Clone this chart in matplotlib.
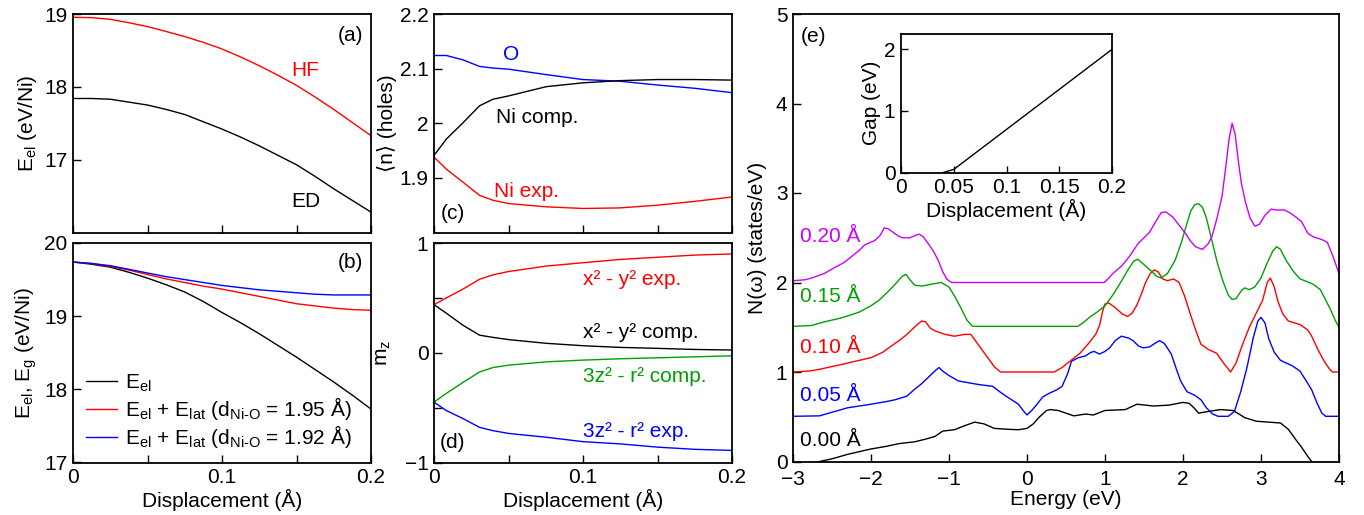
import matplotlib
matplotlib.use("Agg")
import matplotlib.pyplot as plt

plt.rcParams['font.family'] = ['Liberation Sans', 'DejaVu Sans']
plt.rcParams['mathtext.fontset'] = 'custom'
plt.rcParams['mathtext.rm'] = 'Liberation Sans'
plt.rcParams['mathtext.it'] = 'Liberation Sans:italic'
plt.rcParams['font.size'] = 15

RED = '#ff0000'
BLUE = '#0000ff'
GREEN = '#00a000'
MAG = '#cc00ff'

# ---------------- panel (a) ----------------
disp_a = [0.0, 0.0125, 0.025, 0.0375, 0.05, 0.0625, 0.075, 0.0875, 0.1, 0.1125, 0.125,
          0.1375, 0.15, 0.1625, 0.175, 0.1875, 0.2]
hf_a = [18.955, 18.95, 18.927, 18.88, 18.827, 18.76, 18.69, 18.61, 18.52, 18.41, 18.29,
        18.16, 18.02, 17.86, 17.69, 17.51, 17.33]
ed_a = [17.84, 17.84, 17.83, 17.79, 17.75, 17.69, 17.62, 17.52, 17.42, 17.31, 17.19,
        17.06, 16.93, 16.77, 16.60, 16.44, 16.28]

# ---------------- panel (b) ----------------
disp_b = [0.0, 0.0125, 0.025, 0.0375, 0.05, 0.0625, 0.075, 0.0875, 0.1, 0.1125, 0.125,
          0.1375, 0.15, 0.1625, 0.175, 0.1875, 0.2]
eel_b = [19.74, 19.71, 19.67, 19.60, 19.52, 19.43, 19.33, 19.20, 19.05, 18.91, 18.76,
         18.60, 18.44, 18.27, 18.10, 17.92, 17.73]
e195_b = [19.74, 19.72, 19.68, 19.63, 19.57, 19.51, 19.46, 19.41, 19.37, 19.32, 19.27,
          19.22, 19.17, 19.14, 19.11, 19.09, 19.08]
e192_b = [19.74, 19.72, 19.69, 19.64, 19.59, 19.54, 19.50, 19.46, 19.42, 19.39, 19.36,
          19.34, 19.32, 19.30, 19.29, 19.29, 19.29]

# ---------------- panels (c), (d) ----------------
disp_cd = [0.0, 0.0083, 0.0195, 0.0306, 0.0396, 0.05, 0.0754, 0.1, 0.1246, 0.15, 0.175, 0.2]
n_O = [2.124, 2.124, 2.116, 2.104, 2.101, 2.099, 2.089, 2.08, 2.077, 2.07, 2.064, 2.056]
n_ni_comp = [1.941, 1.971, 2.001, 2.032, 2.044, 2.05, 2.067, 2.074, 2.078, 2.08, 2.08, 2.079]
n_ni_exp = [1.938, 1.916, 1.892, 1.868, 1.859, 1.853, 1.847, 1.844, 1.845, 1.85, 1.857, 1.865]

mz_x2y2_exp = [0.438, 0.50, 0.58, 0.67, 0.71, 0.74, 0.79, 0.82, 0.85, 0.87, 0.89, 0.90]
mz_x2y2_comp = [0.438, 0.36, 0.25, 0.16, 0.14, 0.12, 0.086, 0.064, 0.049, 0.04, 0.03, 0.025]
mz_3z2_comp = [-0.45, -0.37, -0.27, -0.175, -0.135, -0.113, -0.083, -0.067, -0.055, -0.046, -0.037, -0.028]
mz_3z2_exp = [-0.45, -0.527, -0.60, -0.68, -0.71, -0.735, -0.77, -0.81, -0.83, -0.86, -0.88, -0.89]

# ---------------- panel (e): DOS (offset curves) ----------------
e_000 = [-3.0, -2.8, -2.66, -2.5, -2.3, -2.15, -2.0, -1.8, -1.64, -1.44, -1.3, -1.18, -1.08,
         -0.93, -0.8, -0.67, -0.55, -0.42, -0.25, -0.11, 0.0, 0.08, 0.15, 0.25, 0.3, 0.4,
         0.5, 0.6, 0.75, 0.85, 1.0, 1.26, 1.41, 1.62, 1.82, 2.0, 2.08, 2.14, 2.2, 2.33,
         2.48, 2.64, 2.72, 2.79, 2.94, 3.25, 3.35, 3.45, 3.52, 3.6, 3.7]
dos_000 = [-0.12, -0.04, 0.0, 0.03, 0.08, 0.11, 0.14, 0.17, 0.2, 0.22, 0.25, 0.28, 0.34,
           0.355, 0.4, 0.44, 0.42, 0.37, 0.36, 0.355, 0.37, 0.42, 0.49, 0.57, 0.58, 0.57,
           0.54, 0.51, 0.53, 0.52, 0.57, 0.58, 0.64, 0.62, 0.63, 0.66, 0.65, 0.6, 0.54, 0.56,
           0.58, 0.57, 0.53, 0.49, 0.45, 0.43, 0.36, 0.24, 0.16, 0.056, -0.06]

e_005 = [-3.0, -2.66, -2.5, -2.3, -2.0, -1.8, -1.69, -1.54, -1.45, -1.35, -1.23, -1.17,
         -1.13, -1.08, -1.0, -0.88, -0.75, -0.62, -0.44, -0.35, -0.27, -0.18, -0.11, -0.05,
         0.0, 0.06, 0.12, 0.2, 0.28, 0.38, 0.45, 0.52, 0.57, 0.66, 0.75, 0.82, 0.86, 0.93,
         1.0, 1.06, 1.13, 1.21, 1.3, 1.36, 1.43, 1.49, 1.57, 1.64, 1.7, 1.76, 1.85, 1.92,
         1.97, 2.05, 2.15, 2.23, 2.3, 2.38, 2.45, 2.58, 2.66, 2.74, 2.82, 2.9, 2.96, 3.0,
         3.05, 3.1, 3.17, 3.25, 3.4, 3.5, 3.58, 3.65, 3.72, 3.78, 3.83, 4.0]
dos_005 = [0.505, 0.51, 0.55, 0.6, 0.64, 0.67, 0.69, 0.73, 0.8, 0.87, 0.97, 1.02,
           1.05, 1.01, 0.96, 0.90, 0.88, 0.86, 0.84, 0.78, 0.73, 0.68, 0.64, 0.57,
           0.52, 0.57, 0.63, 0.72, 0.76, 0.8, 0.84, 0.98, 1.12, 1.16, 1.18, 1.22, 1.23, 1.2,
           1.23, 1.27, 1.35, 1.40, 1.38, 1.35, 1.29, 1.27, 1.28, 1.32, 1.35, 1.32, 1.2, 1.02,
           0.9, 0.78, 0.74, 0.69, 0.6, 0.53, 0.505, 0.505, 0.56, 0.78, 1.05, 1.38, 1.57, 1.61,
           1.55, 1.37, 1.22, 1.13, 1.07, 1.01, 0.9, 0.80, 0.65, 0.54, 0.505, 0.505]

e_010 = [-3.0, -2.8, -2.66, -2.4, -2.2, -2.0, -1.85, -1.74, -1.64, -1.54, -1.42, -1.35,
         -1.3, -1.24, -1.18, -1.05, -0.93, -0.8, -0.72, -0.62, -0.52, -0.42, -0.34, 0.35,
         0.45, 0.55, 0.68, 0.8, 0.88, 0.93, 0.97, 1.0, 1.05, 1.13, 1.22, 1.29, 1.35, 1.41,
         1.47, 1.52, 1.58, 1.63, 1.68, 1.74, 1.8, 1.88, 1.95, 2.02, 2.1, 2.17, 2.23, 2.33,
         2.43, 2.52, 2.61, 2.68, 2.76, 2.85, 2.94, 3.02, 3.08, 3.12, 3.17, 3.22, 3.28, 3.35,
         3.5, 3.6, 3.65, 3.73, 3.81, 3.88, 3.92, 4.0]
dos_010 = [1.0, 1.01, 1.03, 1.08, 1.12, 1.16, 1.22, 1.29, 1.35, 1.42, 1.52, 1.57,
           1.56, 1.49, 1.46, 1.42, 1.40, 1.42, 1.42, 1.3, 1.18, 1.06, 1.0, 1.0,
           1.05, 1.12, 1.21, 1.33, 1.42, 1.52, 1.68, 1.76, 1.77, 1.72, 1.65, 1.62, 1.66, 1.75,
           1.88, 2.0, 2.1, 2.14, 2.12, 2.04, 2.02, 2.04, 2.0, 1.85, 1.63, 1.45, 1.31, 1.25,
           1.21, 1.1, 1.0, 1.1, 1.3, 1.5, 1.66, 1.8, 2.0, 2.05, 1.95, 1.78, 1.65, 1.57,
           1.53, 1.47, 1.40, 1.25, 1.12, 1.03, 1.0, 1.0]

e_015 = [-3.0, -2.76, -2.6, -2.4, -2.25, -2.15, -2.0, -1.9, -1.79, -1.68, -1.6, -1.55,
         -1.5, -1.44, -1.35, -1.23, -1.1, -1.0, -0.93, -0.85, -0.77, -0.7, 0.65, 0.72, 0.8,
         0.9, 1.0, 1.1, 1.2, 1.3, 1.37, 1.42, 1.5, 1.59, 1.66, 1.72, 1.8, 1.9, 1.98, 2.05,
         2.1, 2.15, 2.2, 2.25, 2.3, 2.37, 2.44, 2.51, 2.58, 2.63, 2.68, 2.75, 2.79, 2.85,
         2.92, 3.0, 3.07, 3.15, 3.2, 3.25, 3.32, 3.41, 3.5, 3.59, 3.67, 3.76, 3.82, 3.89,
         3.95, 4.0]
dos_015 = [1.51, 1.52, 1.56, 1.6, 1.64, 1.67, 1.74, 1.8, 1.89, 1.99, 2.07, 2.09,
           2.03, 1.97, 1.96, 1.98, 2.0, 1.95, 1.85, 1.72, 1.58, 1.51, 1.51, 1.55, 1.61,
           1.67, 1.74, 1.86, 2.0, 2.15, 2.24, 2.26, 2.2, 2.13, 2.07, 2.05, 2.1, 2.25, 2.45, 2.66,
           2.8, 2.87, 2.88, 2.84, 2.72, 2.47, 2.22, 2.02, 1.86, 1.81, 1.82, 1.91, 1.94, 1.92,
           1.95, 2.05, 2.2, 2.35, 2.40, 2.37, 2.25, 2.13, 2.04, 2.01, 1.98, 1.92, 1.82, 1.7,
           1.58, 1.5]

e_020 = [-3.0, -2.85, -2.76, -2.6, -2.46, -2.35, -2.25, -2.15, -2.08, -1.95, -1.88, -1.83,
         -1.78, -1.73, -1.65, -1.6, -1.5, -1.42, -1.38, -1.33, -1.27, -1.2, -1.14, -1.08,
         -1.03, -0.97, 0.99, 1.05, 1.1, 1.22, 1.32, 1.42, 1.5, 1.57, 1.65, 1.72, 1.78, 1.87,
         1.95, 2.03, 2.1, 2.16, 2.25, 2.32, 2.37, 2.43, 2.5, 2.55, 2.59, 2.63, 2.67, 2.71,
         2.75, 2.8, 2.86, 2.92, 2.98, 3.05, 3.13, 3.2, 3.3, 3.37, 3.45, 3.52, 3.6, 3.67,
         3.78, 3.85, 3.92, 4.0]
dos_020 = [2.02, 2.03, 2.05, 2.1, 2.17, 2.22, 2.29, 2.36, 2.42, 2.47, 2.53, 2.61,
           2.6, 2.57, 2.52, 2.50, 2.50, 2.53, 2.54, 2.51, 2.44, 2.35, 2.25, 2.12,
           2.04, 2.0, 2.0, 2.05, 2.10, 2.19, 2.3, 2.43, 2.5, 2.56, 2.68, 2.78, 2.79, 2.73,
           2.64, 2.55, 2.46, 2.40, 2.37, 2.43, 2.51, 2.7, 2.96, 3.3, 3.6, 3.78, 3.65, 3.35,
           3.1, 2.9, 2.72, 2.63, 2.65, 2.75, 2.82, 2.81, 2.81, 2.78, 2.73, 2.68, 2.55, 2.51,
           2.48, 2.45, 2.3, 2.10]

# ---------------- inset: gap ----------------
gap_disp = [0.04, 0.05, 0.2]
gap_val = [0.0, 0.05, 2.0]

dos_labels = ['0.00 Å', '0.05 Å', '0.10 Å', '0.15 Å', '0.20 Å']

# ======================================================================
W, H = 1364, 515
fig = plt.figure(figsize=(W / 100, H / 100), dpi=100)


def rect(l, r, t, b):
    return [l / W, 1 - b / H, (r - l) / W, (b - t) / H]


def style(ax):
    ax.tick_params(direction='in', length=6, width=1.0, top=False, right=False,
                   labelsize=15, pad=4)
    for s in ax.spines.values():
        s.set_linewidth(1.3)


lw = 1.0
ax_a = fig.add_axes(rect(73, 371, 14, 232.5))
ax_b = fig.add_axes(rect(73, 371, 243, 462.5))
ax_c = fig.add_axes(rect(434, 732, 14, 232.5))
ax_d = fig.add_axes(rect(434, 732, 243, 462.5))
ax_e = fig.add_axes(rect(793, 1339, 14, 461.5))
ax_i = fig.add_axes(rect(901, 1112, 34, 172.5))

# (a)
ax_a.plot(disp_a, hf_a, color=RED, lw=lw)
ax_a.plot(disp_a, ed_a, color='black', lw=lw)
ax_a.set_xlim(0, 0.2)
ax_a.set_ylim(16, 19)
ax_a.set_yticks([17, 18, 19])
ax_a.set_xticks([0, 0.05, 0.1, 0.15, 0.2])
ax_a.set_xticklabels([])
ax_a.set_ylabel(r'E$_{\rm el}$ (eV/Ni)')
ax_a.text(0.186, 18.71, '(a)', ha='center', va='center')
ax_a.text(0.156, 18.23, 'HF', color=RED, ha='center', va='center')
ax_a.text(0.156, 16.43, 'ED', color='black', ha='center', va='center')
style(ax_a)

# (b)
ax_b.plot(disp_b, eel_b, color='black', lw=lw, label=r'E$_{\rm el}$')
ax_b.plot(disp_b, e195_b, color=RED, lw=lw,
          label=r'E$_{\rm el}$ + E$_{\rm lat}$ (d$_{\rm Ni\text{-}O}$ = 1.95 Å)')
ax_b.plot(disp_b, e192_b, color=BLUE, lw=lw,
          label=r'E$_{\rm el}$ + E$_{\rm lat}$ (d$_{\rm Ni\text{-}O}$ = 1.92 Å)')
ax_b.set_xlim(0, 0.2)
ax_b.set_ylim(17, 20)
ax_b.set_yticks([17, 18, 19, 20])
ax_b.set_xticks([0, 0.05, 0.1, 0.15, 0.2])
ax_b.set_xticklabels(['0', '', '0.1', '', '0.2'])
ax_b.set_xlabel('Displacement (Å)', labelpad=1)
ax_b.set_ylabel(r'E$_{\rm el}$, E$_{\rm g}$ (eV/Ni)')
ax_b.text(0.186, 19.73, '(b)', ha='center', va='center')
ax_b.legend(loc='lower left', frameon=False, handlelength=1.5, handletextpad=0.4,
            labelspacing=0.05, borderaxespad=0.2, fontsize=15)
style(ax_b)

# (c)
ax_c.plot(disp_cd, n_O, color=BLUE, lw=lw)
ax_c.plot(disp_cd, n_ni_comp, color='black', lw=lw)
ax_c.plot(disp_cd, n_ni_exp, color=RED, lw=lw)
ax_c.set_xlim(0, 0.2)
ax_c.set_ylim(1.8, 2.2)
ax_c.set_yticks([1.9, 2.0, 2.1, 2.2])
ax_c.set_yticklabels(['1.9', '2', '2.1', '2.2'])
ax_c.set_xticks([0, 0.05, 0.1, 0.15, 0.2])
ax_c.set_xticklabels([])
ax_c.set_ylabel('\u27e8n\u27e9 (holes)', labelpad=2)
ax_c.text(0.052, 2.125, 'O', color=BLUE, ha='center', va='center')
ax_c.text(0.069, 2.011, 'Ni comp.', color='black', ha='center', va='center')
ax_c.text(0.062, 1.875, 'Ni exp.', color=RED, ha='center', va='center')
ax_c.text(0.0125, 1.835, '(c)', ha='center', va='center')
style(ax_c)

# (d)
ax_d.plot(disp_cd, mz_x2y2_exp, color=RED, lw=lw)
ax_d.plot(disp_cd, mz_x2y2_comp, color='black', lw=lw)
ax_d.plot(disp_cd, mz_3z2_comp, color=GREEN, lw=lw)
ax_d.plot(disp_cd, mz_3z2_exp, color=BLUE, lw=lw)
ax_d.set_xlim(0, 0.2)
ax_d.set_ylim(-1, 1)
ax_d.set_yticks([-1, -0.5, 0, 0.5, 1])
ax_d.set_yticklabels(['\u22121', '', '0', '', '1'])
ax_d.set_xticks([0, 0.05, 0.1, 0.15, 0.2])
ax_d.set_xticklabels(['0', '', '0.1', '', '0.2'])
ax_d.set_xlabel('Displacement (Å)', labelpad=1)
ax_d.set_ylabel(r'm$_{\rm z}$', labelpad=8)
ax_d.text(0.1, 0.663, 'x² - y² exp.', color=RED, ha='left', va='center')
ax_d.text(0.1, 0.18, 'x² - y² comp.', color='black', ha='left', va='center')
ax_d.text(0.1, -0.22, '3z² - r² comp.', color=GREEN, ha='left', va='center')
ax_d.text(0.1, -0.72, '3z² - r² exp.', color=BLUE, ha='left', va='center')
ax_d.text(0.0125, -0.82, '(d)', ha='center', va='center')
style(ax_d)

# (e)
dos_sets = [(e_000, dos_000, 'black'), (e_005, dos_005, BLUE), (e_010, dos_010, RED),
            (e_015, dos_015, GREEN), (e_020, dos_020, MAG)]
label_y = [0.24, 0.74, 1.27, 1.84, 2.51]
for (ex, dy, c), lab, ly in zip(dos_sets, dos_labels, label_y):
    ax_e.plot(ex, dy, color=c, lw=lw, solid_joinstyle='round')
    ax_e.text(-2.91, ly, lab, color=c, ha='left', va='center')
ax_e.set_xlim(-3, 4)
ax_e.set_ylim(0, 5)
ax_e.set_xticks([-3, -2, -1, 0, 1, 2, 3, 4])
ax_e.set_xticklabels(['\u22123', '\u22122', '\u22121', '0', '1', '2', '3', '4'])
ax_e.set_yticks([0, 1, 2, 3, 4, 5])
ax_e.set_xlabel('Energy (eV)', labelpad=1)
ax_e.set_ylabel('N(ω) (states/eV)', labelpad=6)
ax_e.text(-2.74, 4.75, '(e)', ha='center', va='center')
style(ax_e)
ax_e.tick_params(axis='x', pad=6)

# inset
ax_i.plot(gap_disp, gap_val, color='black', lw=lw)
ax_i.set_xlim(0, 0.2)
ax_i.set_ylim(0, 2.25)
ax_i.set_xticks([0, 0.05, 0.1, 0.15, 0.2])
ax_i.set_xticklabels(['0', '0.05', '0.1', '0.15', '0.2'])
ax_i.set_yticks([0, 1, 2])
ax_i.set_xlabel('Displacement (Å)', labelpad=1)
ax_i.set_ylabel('Gap (eV)', labelpad=2)
style(ax_i)
ax_i.tick_params(length=5)

fig.savefig('out.png', dpi=100)
